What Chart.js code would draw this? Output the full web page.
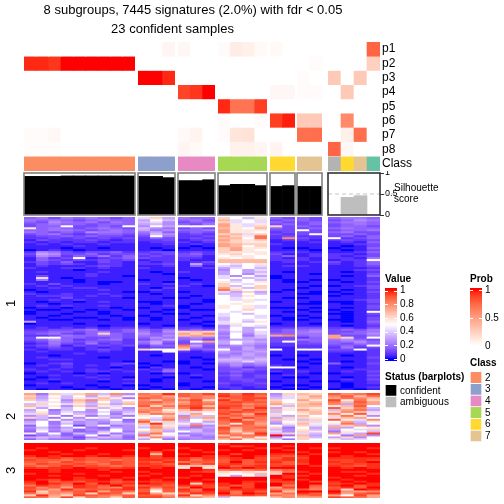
<!DOCTYPE html>
<html>
<head>
<meta charset="utf-8">
<title>Subgroup signatures heatmap</title>
<script src="https://cdn.jsdelivr.net/npm/chart.js@4/dist/chart.umd.min.js"></script>
<style>
    html, body { margin: 0; padding: 0; background: #fff; }
    body { position: relative; width: 504px; height: 504px; overflow: hidden; }
    canvas { position: absolute; }
</style>
</head>
<body>
<script>
var titleLine1 = '8 subgroups, 7445 signatures (2.0%) with fdr < 0.05';
var titleLine2 = '23 confident samples';
var annotationNames = ['p1', 'p2', 'p3', 'p4', 'p5', 'p6', 'p7', 'p8', 'Class'];
var groupSizes = [9, 3, 3, 4, 2, 2, 4];

// membership probability per sample, groups in order
var p1 = [0,0,0,0,0,0,0,0,0, 0,0,.05, .04,0,0, .02,.1,.08,.03, .03,0, 0,0, 0,0,0,.76];
var p2 = [.95,.95,.92,1,1,1,1,1,1, 0,0,0, 0,0,0, 0,0,0,0, 0,0, 0,.02, 0,0,0,.25];
var p3 = [0,0,0,0,0,0,0,0,0, 1,1,.95, 0,0,0, 0,0,0,0, 0,0, .02,0, .28,0,.28,0];
var p4 = [0,0,0,0,0,0,0,0,0, 0,0,0, .88,.92,1, 0,0,0,0, .04,.04, .02,.02, 0,.28,0,0];
var p5 = [0,0,0,0,0,0,0,0,0, 0,0,0, 0,0,0, .95,.7,.7,.9, 0,0, 0,0, 0,0,0,0];
var p6 = [0,0,0,0,0,0,0,0,0, 0,0,0, 0,0,0, .02,0,0,.02, .9,.97, .28,.28, 0,.6,0,0];
var p7 = [.02,.02,.04,0,0,0,0,0,0, 0,0,0, .03,.06,0, .02,.13,.15,0, 0,0, .72,.72, 0,.08,.72,0];
var p8 = [.015,.015,.015,0,0,0,0,0,0, 0,0,0, .05,.03,0, 0,.07,.07,.05, .06,0, 0,0, .76,.04,0,0];
var sampleClass = ['2','2','2','2','2','2','2','2','2', '3','3','3', '4','4','4', '5','5','5','5', '6','6', '7','7', '8','6','7','1'];
var silhouette = [.92,.92,.92,.93,.93,.93,.93,.93,.93, .92,.92,.89, .82,.82,.84, .70,.73,.73,.70, .68,.70, .68,.68, 0,.42,.46,0];

var classLabels = ['2', '3', '4', '5', '6', '7'];
var statusLabels = ['confident', 'ambiguous'];
var valueTicks = [0, .2, .4, .6, .8, 1];
var probTicks = [0, .5, 1];

// what each character in the heatmap rows stands for (0-9 then a-k)
var valueLevels = [0, .03, .07, .11, .16, .2, .25, .3, .35, .42, .5, .56, .62, .68, .74, .8, .85, .9, .94, .97, 1];

// heatmap rows, one character per sample, space between groups
var heatRows1 = [
    '453545434 9c7 544 ca8b 43 43 4554',
    '545434544 7a8 453 d9a9 34 43 3465',
    '436545354 896 344 c9a9 43 34 4554',
    '345443444 786 435 eb9b 34 34 3454',
    '344a3343a 6a7 aaa eb9c c3 43 3443',
    'b45434543 865 343 dbad 43 34 4544',
    '445543454 756 445 ebbb 33 a3 3445',
    '543436554 574 343 ebba 23 33 4533',
    '345323443 486 232 cd9c 32 3a 3343',
    '233434332 3a5 223 ecbg 23 22 3424',
    '223232323 243 232 ddag 2f 32 a234',
    '132223212 223 123 ecbc 12 21 2323',
    '212122122 122 212 dcbb 11 12 1214',
    '121211211 112 121 edcc 21 11 1123',
    '111121111 111 101 edac 11 11 1013',
    '111011011 101 010 cebb 10 01 0114',
    '012101111 110 111 ceba 11 10 1013',
    '265323342 233 232 cbbb 22 21 1124',
    '376334233 323 342 bcab 31 12 2213',
    '265243524 232 331 abba 24 12 2123',
    '1423a1234 322 221 baba 21 21 2215',
    '143232323 122 211 dddd 22 21 122a',
    '232411321 212 123 dddd 12 12 3124',
    '132321221 223 172 a9ab 11 11 2124',
    '121112321 112 141 98a9 12 21 1123',
    '211221211 211 112 79a8 11 11 1112',
    '111101111 111 111 6a79 11 11 1123',
    '121111211 101 211 7a78 10 11 1012',
    '111112111 110 111 7a69 11 10 1113',
    '131112110 111 111 96a7 01 11 1014',
    '191011111 111 011 9a89 01 11 1112',
    '151101111 011 101 a8a8 10 10 0112',
    '111101001 110 111 b9ab 10 01 1013',
    '213111011 212 121 ca9a 11 11 1112',
    '121211111 111 210 c8ac 11 10 0123',
    '112122111 102 111 eb8c 11 01 1113',
    '011111211 121 111 gcab 10 11 1012',
    '101111110 011 011 97c7 01 10 0113',
    '211211211 101 111 88a8 11 00 1012',
    '122212121 111 101 a8ba 11 11 0112',
    '111311110 110 011 a9aa 10 01 1112',
    '112121111 111 110 a9b9 11 11 1123',
    '101101211 001 110 aaba 01 10 0013',
    '110111111 101 101 abaa 11 00 1012',
    '121211211 112 011 bab9 11 11 1113',
    '011011101 011 011 bab9 00 10 1013',
    '100110110 110 100 aaca 11 01 0112',
    '011101011 101 111 a9aa 10 10 101a',
    '011011011 110 011 9a8a 11 11 0013',
    '110111101 011 110 9aa9 01 01 1012',
    '101100110 101 101 8aa9 10 10 1013',
    '110011010 101 011 8a9a 10 01 0013',
    '711111111 111 110 9a8b 11 11 1014',
    '011101111 011 101 9baa 01 10 1113',
    '111111011 110 110 69a9 11 11 1012',
    '121212122 212 221 6a78 22 33 2213',
    '223345234 435 343 7a7a 34 45 3435',
    '334434534 536 cdc 6979 34 56 3345',
    '345324c43 645 ecf 5a69 44 55 3446',
    '223544543 546 ded 6a58 ef 45 e335',
    '3aa443343 465 565 5a78 33 24 ec3a',
    '346423452 357 453 6776 33 54 5643',
    '235434332 574 3ae 7a87 3a 34 4564',
    '125325232 473 354 7a76 22 33 4354',
    '234132323 244 g73 5665 22 22 343a',
    '123212121 233 e53 6575 11 22 2523',
    '212212321 caa c34 a576 a1 aa 33a2',
    '121111211 11a 212 7667 11 11 2212',
    '111121111 111 111 6576 11 11 1112',
    '110111111 101 111 5676 01 01 1012',
    '121111011 111 101 6767 11 11 1113',
    '112211111 111 110 8878 10 10 1112',
    '111111110 110 011 7797 11 01 1012',
    '012311123 011 010 5656 11 10 4113',
    '121212121 101 111 4645 21 11 1112',
    '111211101 021 101 3423 aa 01 1012',
    '212112121 214 110 3343 11 11 1122',
    '121212212 125 111 3432 21 21 1213',
    '011101011 101 011 2322 01 10 0112',
    '112121211 112 121 3423 12 11 1113',
    '101112110 110 101 2323 10 01 1012',
    '012111212 101 111 2332 11 11 1213',
    '110111011 101 110 2232 01 10 0112',
    '121211112 111 011 3223 11 11 1012',
    '011110110 011 011 2122 10 01 1011',
    '111011011 101 110 2212 01 10 1012',
    '101101101 010 101 1211 10 01 0101'
];
var heatRows2 = [
    'e5c9ce8f6 gfj hgi igjh 6c dc hfgi',
    'c7a8a7b8b fge hgf jhig 79 ce fhdg',
    'd7b8b9db5 hgf egf ghii 89 cd egfd',
    'c8a6dfc8a fdg gic jgig ca eb ibgc',
    'a9b7c7a8c ghf ehf hihh da cd gdhe',
    '8ca9b8c7d gfe fhg hhfg ec de f7ge',
    'd9b6c7b9a hcg hid iigh b8 dd bdha',
    'b7a8ac8b6 ege gjg jhfj 7b cb hcf8',
    '7a58a6a87 ffb dgd hgih db ec 8eg7',
    '8b6976968 gec c9b hihg 8a cd cfd9',
    '9c6a87a59 dgf 9ea igej 9a bd fbhb',
    '68a5b5875 bad 6d8 ghfh c7 da cgb6',
    'c85a6a96a a9e f8e ifig 7c cb 9dea',
    '57a6867a4 e8g 7ac hjeg d9 8c hb9f',
    '7a5967685 hbc 8a7 gihf 7a c9 ae8b',
    '8a5867587 dj9 b79 gbhe 6b db bg7a',
    '4a6a37a56 9eb 8g6 ehgf a8 c9 8ce6',
    '6857a5476 8fc 657 iegh c5 a7 e7ab',
    '5968465a6 ad8 786 hdgf 86 b8 7a9c',
    '4a57458a5 cd7 a86 gcfg 96 cb 5ba8',
    'b6a486b57 7ga 567 hfcj 8c 98 e97i',
    '35745a485 gcb 856 dggh k5 d7 a5e6',
    '787636874 9f7 665 gcfb 6a c8 7c6a',
    '475548665 7a5 566 dgbd 95 ca b89a'
];
var heatRows3 = [
    'kkkkkkkkk kkk kkk jkkk kk kk kkkk',
    'kkkkkkkkk kkk kkk kijk kj kk kkkk',
    'kjkkkjkkk jkk jkk kkkj jk kj jkkj',
    'jkkkjkkkj kkj kjk jkjk kj kk kkkk',
    'kkjkkkkkk khk kkj kkkk kk jk jkjk',
    'kkkjkkjkk kdk jkk kikk jj kj kkkj',
    'jkjkkjkkj kik kkj jkkj ih jk kjkk',
    'hijhihhih jij jhj ijki hj ik jjjj',
    'ihhgihhgh jji jgi hjhi ij jk iiji',
    'hhgihghih ihj ghh hkhj jh jk jijk',
    'gihhihgih jih jgi ijhi ih ik ijij',
    'hghjhihgh iji cdc jhij ij kj jihj',
    'jijjkjjij kjk bkb kjkj kk kk kjkj',
    'kkjkkkjkk kkk kkj ghgh gh kk kkkk',
    'kkjkkkkjk jkk kji cbcb dg jk kjjk',
    'jkkkjkkkk kjk kkk babd ck kj kkkj',
    'kkjkkkjkk jkk kjk a7a8 kj jk kkjk',
    'kkkkjkkkj kkj jkk kkkk kj kk jkkk',
    'kjikjjkik kjk kkj kkkk jk jk kjkk',
    'jkhihjjhi jij kjk kkjj ii ki jkjk',
    'ikjhkhkij kji kcj jkik ki kk ijkj',
    'gjhgjihkh hih jii jhik kg kh jkhj',
    'ifhejigfj jgi gki hkik ei kg hjhk',
    'hgejghhij hch jgk ijjj gf hf ickj',
    'jcfghjehg hah ihj jgjh jd kk kfef',
    'gdfehcihc jec fji kgkj eg jh jehi',
    'cjecihgfh hhf jcf hhih gf gh eaie',
    'hgdicgfch iig ffd 8aaa df ee ihge'
];

// layout of the blocks on the page, in px
var columnEdges = [[24, 135], [138, 175], [178, 215], [218, 267], [270, 295], [297, 322], [328, 380]];
var classColors = { '1': '#66c2a5', '2': '#fc8d62', '3': '#8da0cb', '4': '#e78ac3', '5': '#a6d854', '6': '#ffd92f', '7': '#e5c494', '8': '#b3b3b3' };
var fontFamily = '"Liberation Sans", Arial, sans-serif';

Chart.defaults.font.family = fontFamily;
Chart.defaults.color = '#000';
Chart.defaults.animation = false;
Chart.defaults.responsive = false;
Chart.defaults.events = [];
Chart.defaults.plugins.legend.display = false;
Chart.defaults.plugins.tooltip.enabled = false;

// colours are mixed in LAB, the way the heatmap colour ramp does it
function toLab(rgb) {
    var c = rgb.map(function (v) {
        v = v / 255;
        return v > 0.04045 ? Math.pow((v + 0.055) / 1.055, 2.4) : v / 12.92;
    });
    var f = function (t) { return t > 0.008856 ? Math.cbrt(t) : 7.787 * t + 16 / 116; };
    var x = f((0.4124 * c[0] + 0.3576 * c[1] + 0.1805 * c[2]) / 0.95047);
    var y = f(0.2126 * c[0] + 0.7152 * c[1] + 0.0722 * c[2]);
    var z = f((0.0193 * c[0] + 0.1192 * c[1] + 0.9505 * c[2]) / 1.08883);
    return [116 * y - 16, 500 * (x - y), 200 * (y - z)];
}

function fromLab(lab) {
    var fy = (lab[0] + 16) / 116;
    var g = function (t) { return t > 0.2069 ? t * t * t : (t - 16 / 116) / 7.787; };
    var x = g(fy + lab[1] / 500) * 0.95047;
    var y = g(fy);
    var z = g(fy - lab[2] / 200) * 1.08883;
    var rgb = [3.2406 * x - 1.5372 * y - 0.4986 * z, -0.9689 * x + 1.8758 * y + 0.0415 * z, 0.0557 * x - 0.204 * y + 1.057 * z];
    return 'rgb(' + rgb.map(function (v) {
        v = Math.min(1, Math.max(0, v));
        v = v > 0.0031308 ? 1.055 * Math.pow(v, 1 / 2.4) - 0.055 : 12.92 * v;
        return Math.round(v * 255);
    }).join(',') + ')';
}

var labBlue = toLab([0, 0, 255]), labWhite = toLab([255, 255, 255]), labRed = toLab([255, 0, 0]);

function mixLab(a, b, t) {
    t = Math.min(1, Math.max(0, t));
    return fromLab([a[0] + (b[0] - a[0]) * t, a[1] + (b[1] - a[1]) * t, a[2] + (b[2] - a[2]) * t]);
}

function valueColor(v) {
    return v < 0.5 ? mixLab(labBlue, labWhite, v / 0.5) : mixLab(labWhite, labRed, (v - 0.5) / 0.5);
}

function probColor(v) {
    return mixLab(labWhite, labRed, v);
}

function addCanvas(left, top, width, height) {
    var canvas = document.createElement('canvas');
    canvas.width = width;
    canvas.height = height;
    canvas.style.left = left + 'px';
    canvas.style.top = top + 'px';
    document.body.appendChild(canvas);
    return canvas;
}

function hiddenAxis() {
    return { display: false, grid: { display: false }, offset: true };
}

// the axis keeps the given width and does not push the plot area in for its labels
function fixedWidth(width) {
    return function (scale) {
        scale.width = width;
        scale.paddingTop = 0;
        scale.paddingBottom = 0;
    };
}

// a block of cells: one stacked bar dataset per row, one category per sample
function drawCells(samples, rowColors, box, extra) {
    extra = extra || {};
    var datasets = rowColors.map(function (colors, r) {
        return {
            data: samples.map(function () { return extra.rowHeights ? extra.rowHeights[r] : 1; }),
            backgroundColor: colors,
            borderWidth: extra.cellBorder || 0,
            borderColor: '#fff',
            barPercentage: 1,
            categoryPercentage: 1
        };
    });
    var total = extra.rowHeights ? extra.rowHeights.reduce(function (a, b) { return a + b; }, 0) : rowColors.length;
    var leftSpace = extra.panelName ? box.left : 0;
    var rightSpace = extra.rowLabels ? extra.labelWidth : 0;
    var topSpace = extra.heading ? extra.heading.space : 0;
    var scales = {
        x: Object.assign(hiddenAxis(), { stacked: true }),
        y: { display: false, min: 0, max: total, stacked: true, reverse: true, grid: { display: false } }
    };
    if (extra.panelName) {
        scales.y = {
            display: true, position: 'left', min: 0, max: total, stacked: true, reverse: true,
            grid: { display: false }, border: { display: false },
            ticks: { display: false },
            title: { display: true, text: extra.panelName, font: { size: 13 }, padding: { top: 4, bottom: 0 } },
            afterFit: fixedWidth(leftSpace)
        };
    }
    if (extra.rowLabels) {
        scales.rowNames = {
            type: 'category', labels: extra.rowLabels, position: 'right', offset: true,
            grid: { display: false, drawTicks: false }, border: { display: false },
            ticks: { font: { size: extra.labelSize }, padding: extra.labelPad, autoSkip: false },
            afterFit: fixedWidth(rightSpace)
        };
    }
    var canvas = addCanvas(box.left - leftSpace, box.top - topSpace, box.right - box.left + leftSpace + rightSpace, box.bottom - box.top + topSpace);
    return new Chart(canvas, {
        type: 'bar',
        data: { labels: samples, datasets: datasets },
        options: {
            layout: { padding: 0 },
            scales: scales,
            plugins: {
                title: extra.heading ? {
                    display: true, text: extra.heading.text, align: 'start',
                    font: { size: 10, weight: 'bold' }, padding: { top: 0, bottom: extra.heading.space - 12 }
                } : { display: false }
            }
        }
    });
}

// frame round the silhouette bars, plus the 0.5 line and axis caption of the ambiguous block
var silhouetteFrame = {
    id: 'silhouetteFrame',
    afterDatasetsDraw: function (chart, args, opts) {
        var area = chart.chartArea, ctx = chart.ctx;
        ctx.save();
        if (opts.caption) {
            var y = chart.scales.y.getPixelForValue(0.5);
            ctx.strokeStyle = '#c4c4c4';
            ctx.lineWidth = 1;
            ctx.setLineDash([4, 3]);
            ctx.beginPath();
            ctx.moveTo(area.left, y);
            ctx.lineTo(area.right + 15, y);
            ctx.stroke();
            ctx.setLineDash([]);
            ctx.fillStyle = '#000';
            ctx.font = '10px ' + fontFamily;
            ctx.textBaseline = 'middle';
            ctx.fillText(opts.caption[0], area.right + 14, y - 6);
            ctx.fillText(opts.caption[1], area.right + 14, y + 5);
        }
        ctx.strokeStyle = opts.color;
        ctx.lineWidth = 1.6;
        ctx.strokeRect(area.left, area.top, area.right - area.left, area.bottom - area.top);
        ctx.restore();
    }
};

function drawSilhouette(samples, values, edges, isAmbiguous) {
    var pad = 2, axisWidth = isAmbiguous ? 70 : 0;
    var canvas = addCanvas(edges[0] - pad, 172.5 - pad, edges[1] - edges[0] + 2 * pad + axisWidth, 42 + 2 * pad + (isAmbiguous ? 4 : 0));
    var yAxis = { display: false, min: 0, max: 1 };
    if (isAmbiguous) {
        yAxis = {
            display: true, position: 'right', min: 0, max: 1,
            border: { display: false },
            grid: { drawOnChartArea: false, drawTicks: true, tickLength: 4, color: '#333' },
            ticks: {
                stepSize: 0.5, font: { size: 9 }, padding: 1, autoSkip: false,
                callback: function (v) { return String(+v.toFixed(1)); }
            },
            afterFit: fixedWidth(axisWidth)
        };
    }
    new Chart(canvas, {
        type: 'bar',
        data: {
            labels: samples,
            datasets: [{
                data: values,
                backgroundColor: isAmbiguous ? '#bebebe' : '#000',
                barPercentage: 1,
                categoryPercentage: 1
            }]
        },
        options: {
            layout: { padding: { left: pad, right: pad, top: pad, bottom: pad + (isAmbiguous ? 4 : 0) } },
            scales: { x: hiddenAxis(), y: yAxis },
            plugins: {
                silhouetteFrame: {
                    color: isAmbiguous ? '#333' : '#808080',
                    caption: isAmbiguous ? ['Silhouette', 'score'] : null
                }
            }
        },
        plugins: [silhouetteFrame]
    });
}

// small white marks on both edges of a colour bar
var barMarks = {
    id: 'barMarks',
    afterDatasetsDraw: function (chart) {
        var area = chart.chartArea, ctx = chart.ctx;
        ctx.save();
        ctx.strokeStyle = '#fff';
        ctx.lineWidth = 1;
        chart.scales.y.ticks.forEach(function (t) {
            var y = Math.round(chart.scales.y.getPixelForValue(t.value)) + 0.5;
            ctx.beginPath();
            ctx.moveTo(area.left, y);
            ctx.lineTo(area.left + 3, y);
            ctx.moveTo(area.right - 3, y);
            ctx.lineTo(area.right, y);
            ctx.stroke();
        });
        ctx.restore();
    }
};

// colour bar legend, floating bars on a linear axis
function drawColorBar(name, ticks, colorOf, box, minV, maxV) {
    var steps = [], n = 60, space = 15;
    for (var i = 0; i < n; i++) {
        var lo = minV + (maxV - minV) * i / n, hi = minV + (maxV - minV) * (i + 1) / n;
        steps.push({
            data: [[lo, hi + 0.002]],
            backgroundColor: colorOf((lo + hi) / 2),
            barPercentage: 1,
            categoryPercentage: 1,
            grouped: false
        });
    }
    var canvas = addCanvas(box.left, box.top - space, box.right - box.left + 32, box.bottom - box.top + space + 6);
    new Chart(canvas, {
        type: 'bar',
        data: { labels: [name], datasets: steps },
        options: {
            layout: { padding: { bottom: 6 } },
            scales: {
                x: hiddenAxis(),
                y: {
                    position: 'right', min: minV, max: maxV,
                    grid: { display: false, drawTicks: false }, border: { display: false },
                    afterBuildTicks: function (scale) {
                        scale.ticks = ticks.map(function (v) { return { value: v }; });
                    },
                    ticks: {
                        font: { size: 10 }, padding: 3, autoSkip: false, includeBounds: false,
                        callback: function (v) { return String(+v.toFixed(1)); }
                    },
                    afterFit: fixedWidth(32)
                }
            },
            plugins: {
                title: {
                    display: true, text: name, align: 'start',
                    font: { size: 10, weight: 'bold' }, padding: { top: 0, bottom: space - 12 }
                }
            }
        },
        plugins: [barMarks]
    });
}

function drawTitle(text, top, width) {
    new Chart(addCanvas(0, top, width, 24), {
        type: 'bar',
        data: { labels: [], datasets: [] },
        options: {
            scales: { x: { display: false }, y: { display: false } },
            plugins: {
                title: { display: true, text: text, font: { size: 13, weight: 'normal' }, padding: { top: 3, bottom: 0 } }
            }
        }
    });
}

function sliceGroups(list) {
    var start = 0;
    return groupSizes.map(function (size) {
        var part = list.slice(start, start + size);
        start += size;
        return part;
    });
}

function init() {
    var sampleNames = sampleClass.map(function (c, i) { return 'S' + (i + 1); });
    var samplesByGroup = sliceGroups(sampleNames);

    drawTitle(titleLine1, 0, 386);
    drawTitle(titleLine2, 19, 345);

    // probability rows and class row
    var probRows = [p1, p2, p3, p4, p5, p6, p7, p8].map(function (row) { return sliceGroups(row.map(probColor)); });
    var classRow = sliceGroups(sampleClass.map(function (c) { return classColors[c]; }));
    var silhouetteByGroup = sliceGroups(silhouette);
    var heatPanels = [
        { rows: heatRows1, top: 217, bottom: 390, name: '1' },
        { rows: heatRows2, top: 393, bottom: 440, name: '2' },
        { rows: heatRows3, top: 443.3, bottom: 499, name: '3' }
    ];

    columnEdges.forEach(function (edges, g) {
        var colors = probRows.map(function (row) { return row[g]; });
        colors.push(samplesByGroup[g].map(function () { return 'rgba(0,0,0,0)'; }));
        colors.push(classRow[g]);
        var isLast = g === columnEdges.length - 1;
        drawCells(samplesByGroup[g], colors, { left: edges[0], right: edges[1], top: 42, bottom: 171.5 }, {
            rowHeights: [1, 1, 1, 1, 1, 1, 1, 1, 0.07, 1],
            rowLabels: isLast ? annotationNames : null,
            labelWidth: 50,
            labelSize: 12,
            labelPad: 2
        });
        drawSilhouette(samplesByGroup[g], silhouetteByGroup[g], edges, isLast);

        heatPanels.forEach(function (panel) {
            var rowColors = panel.rows.map(function (row) {
                var parts = row.split(' ');
                return parts[g].split('').map(function (ch) { return valueColor(valueLevels[parseInt(ch, 21)]); });
            });
            drawCells(samplesByGroup[g], rowColors, { left: edges[0], right: edges[1], top: panel.top, bottom: panel.bottom }, {
                panelName: g === 0 ? panel.name : null
            });
        });
    });

    // legends
    drawColorBar('Value', valueTicks, valueColor, { left: 385, right: 397, top: 288, bottom: 361 }, -0.03, 1.04);
    drawColorBar('Prob', probTicks, probColor, { left: 470, right: 482, top: 288, bottom: 349 }, -0.05, 1.04);
    drawCells(['status'], [['#000'], ['#bebebe']], { left: 385, right: 397, top: 385, bottom: 408.5 }, {
        rowLabels: statusLabels, labelWidth: 72, labelSize: 10, labelPad: 3, cellBorder: 1,
        heading: { text: 'Status (barplots)', space: 14 }
    });
    drawCells(['class'], classLabels.map(function (c) { return [classColors[c]]; }), { left: 470, right: 482, top: 372, bottom: 442 }, {
        rowLabels: classLabels, labelWidth: 20, labelSize: 10, labelPad: 3, cellBorder: 1,
        heading: { text: 'Class', space: 15 }
    });
}

init();
</script>
</body>
</html>
